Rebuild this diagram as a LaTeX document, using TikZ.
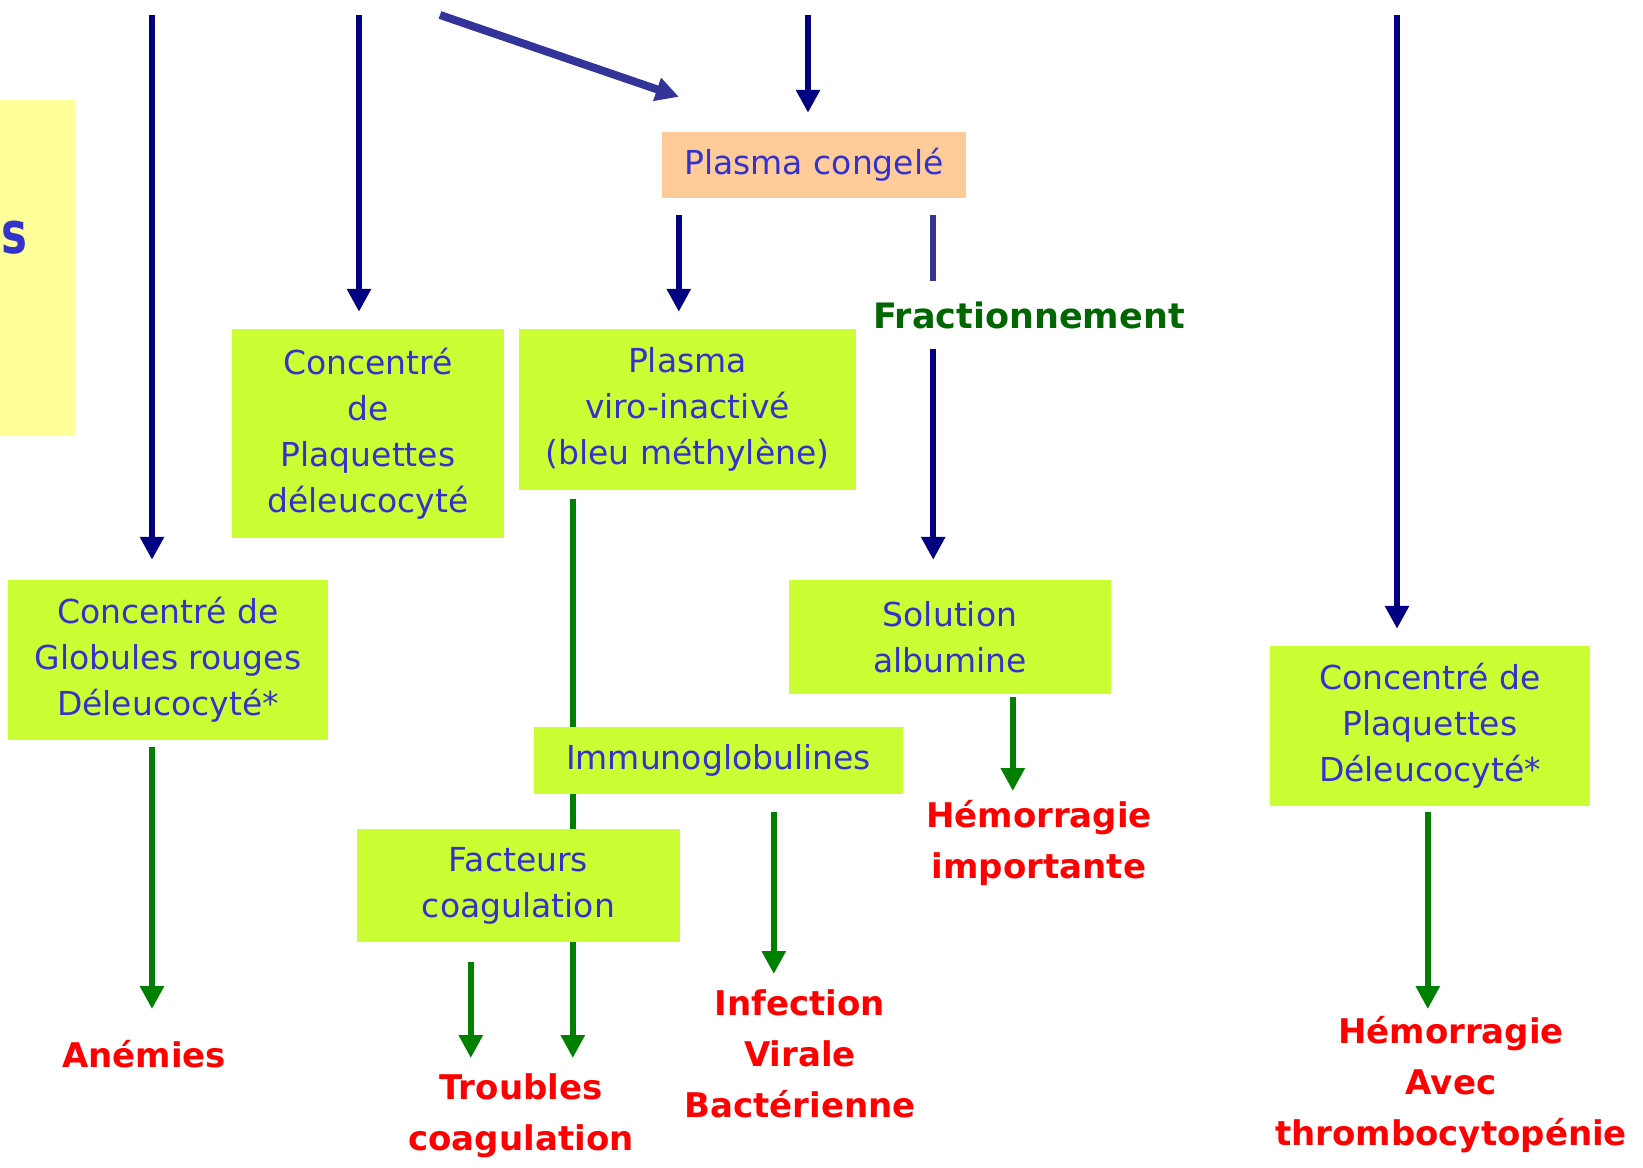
\documentclass[tikz,border=0pt]{standalone}
\usepackage{fontspec}
\setmainfont{DejaVu Sans}
\usetikzlibrary{arrows.meta, positioning, backgrounds, calc}
\usepackage{xcolor}

\definecolor{boxgreen}{RGB}{204,255,51}
\definecolor{peach}{RGB}{255,204,153}
\definecolor{paleyellow}{RGB}{255,255,153}
\definecolor{txtblue}{RGB}{51,51,204}
\definecolor{navy}{RGB}{0,0,128}
\definecolor{lightnavy}{RGB}{51,51,153}
\definecolor{arrgreen}{RGB}{0,128,0}
\definecolor{fracgreen}{RGB}{0,102,0}

\begin{document}
\begin{tikzpicture}[
    x=1pt, y=-1pt,
    box/.style={rectangle, fill=boxgreen, inner sep=0pt, align=center,
                text=txtblue, font=\fontsize{33}{46}\selectfont},
    risk/.style={inner sep=0pt, align=center, text=red, anchor=north,
                 font=\fontsize{34}{51}\selectfont\bfseries},
    navyarr/.style={-{Triangle[width=23pt, length=23pt]}, navy, line width=6pt},
    greenarr/.style={-{Triangle[width=23pt, length=23pt]}, arrgreen, line width=6pt}
]
\useasboundingbox (0,0) rectangle (1643,1167);

% Left panel (cut off)
\node[fill=paleyellow, minimum width=75pt, minimum height=336pt, inner sep=0pt] (panel) at (37.5,268) {};
\node[text=txtblue, font=\fontsize{58}{58}\selectfont\bfseries, anchor=base west,
      inner sep=0pt, xscale=0.75, transform shape] (panels) at (1,253) {s};

% Incoming lines from above
\coordinate (top1) at (152,15);
\coordinate (top2) at (359,15);
\coordinate (top3) at (440,15);
\coordinate (top4) at (808,15);
\coordinate (top5) at (1397,15);

% Products
\node[box, fill=peach, minimum width=304pt, minimum height=66pt] (pc) at (814,165) {Plasma congelé};
\node[box, minimum width=272pt, minimum height=209pt] (cpd) at (368,433.5) {Concentré\\de\\Plaquettes\\déleucocyté};
\node[box, minimum width=337pt, minimum height=161pt] (pvi) at (687.5,409.5) {Plasma\\viro-inactivé\\(bleu méthylène)};
\node[box, minimum width=320pt, minimum height=160pt] (cgr) at (168,660) {Concentré de\\Globules rouges\\Déleucocyté*};
\node[box, minimum width=322pt, minimum height=114pt] (alb) at (950,637) {Solution\\albumine};
\node[box, minimum width=320pt, minimum height=160pt] (cpds) at (1430,726) {Concentré de\\Plaquettes\\Déleucocyté*};
\node[box, minimum width=369pt, minimum height=67pt] (ig) at (718.5,760.5) {Immunoglobulines};
\node[box, minimum width=323pt, minimum height=113pt] (fc) at (518.5,885.5) {Facteurs\\coagulation};
\node[text=fracgreen, font=\fontsize{35}{40}\selectfont\bfseries, inner sep=0pt,
      minimum height=67pt] (frac) at (1029,315) {Fractionnement};

% Indications
\node[risk] (anem)  at (144,1040)  {Anémies};
\node[risk] (troub) at (521,1073)  {Troubles\\coagulation};
\node[risk] (infec) at (800,989)   {Infection\\Virale\\Bactérienne};
\node[risk] (hemo1) at (1039,800)  {Hémorragie\\importante};
\node[risk] (hemo2) at (1451,1016) {Hémorragie\\Avec\\thrombocytopénie};

% Arrows from above
\draw[navyarr, shorten >=20pt] (top1) -- (top1 |- cgr.north);
\draw[navyarr, shorten >=17pt] (top2) -- (top2 |- cpd.north);
\draw[navyarr, lightnavy, line width=8pt] (top3) -- ($(pc.north west)+(17,-35)$);
\draw[navyarr, shorten >=19pt] (top4) -- (top4 |- pc.north);
\draw[navyarr, shorten >=17pt] (top5) -- (top5 |- cpds.north);

% Plasma split
\coordinate (pcleft)  at ([xshift=17pt]pc.south west);
\coordinate (pcright) at ([xshift=-33pt]pc.south east);
\draw[navyarr, shorten <=17pt, shorten >=17pt] (pcleft) -- (pcleft |- pvi.north);
\draw[lightnavy, line width=6pt, shorten <=17pt] (pcright) -- (pcright |- frac.north);
\draw[navyarr, shorten >=20pt] (pcright |- frac.south) -- (pcright |- alb.north);

% Towards indications
\coordinate (pvix) at ([xshift=54pt]pvi.south west);
\coordinate (fcx)  at ([xshift=114pt]fc.south west);
\coordinate (igx)  at ([xshift=240pt]ig.south west);
\coordinate (albx) at ([xshift=224pt]alb.south west);
\coordinate (cpdx) at ([xshift=158pt]cpds.south west);
\begin{scope}[on background layer]
    \draw[greenarr, shorten <=9pt, shorten >=15pt] (pvix) -- (pvix |- troub.north);
\end{scope}
\draw[greenarr, shorten <=7pt, shorten >=31pt] (top1 |- cgr.south) -- (top1 |- anem.north);
\draw[greenarr, shorten <=20pt, shorten >=15pt] (fcx) -- (fcx |- troub.north);
\draw[greenarr, shorten <=18pt, shorten >=15pt] (igx) -- (igx |- infec.north);
\draw[greenarr, shorten <=3pt, shorten >=9pt] (albx) -- (albx |- hemo1.north);
\draw[greenarr, shorten <=6pt, shorten >=7pt] (cpdx) -- (cpdx |- hemo2.north);
\end{tikzpicture}
\end{document}
